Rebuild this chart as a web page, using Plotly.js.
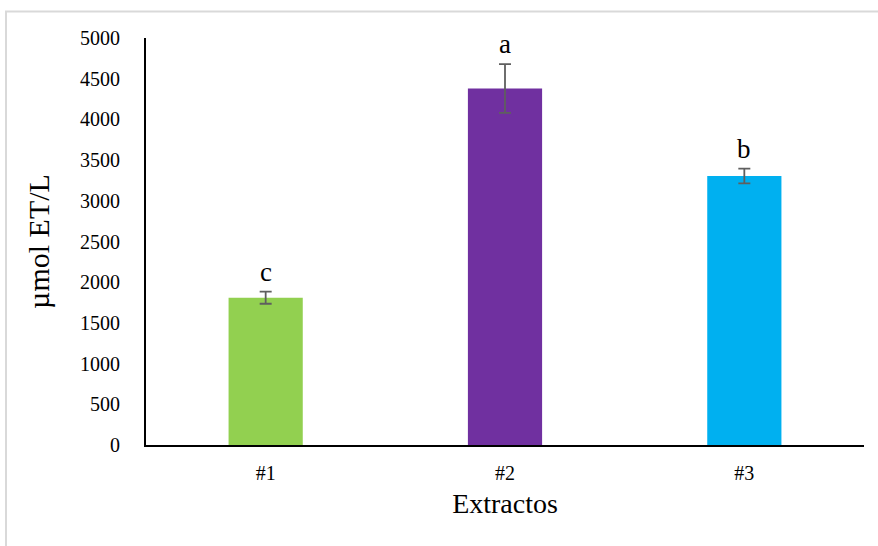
<!DOCTYPE html>
<html>
<head>
<meta charset="utf-8">
<script src="https://cdn.plot.ly/plotly-3.0.1.min.js"></script>
<style>html,body{margin:0;padding:0;background:#fff;}#chart{width:878px;height:546px;}</style>
</head>
<body>
<div id="chart"></div>
<script>
const categories = ["#1", "#2", "#3"];
const values = [1810, 4380, 3305];
const errors = [75, 300, 90];
const letters = ["c", "a", "b"];
const letterY = [2125, 4926, 3636];
const colors = ["#92d050", "#7030a0", "#00b0f0"];

const serif = "'Liberation Serif', 'Times New Roman', serif";

const trace = {
  type: "bar",
  x: categories,
  y: values,
  width: 0.31,
  marker: {color: colors},
  error_y: {type: "data", array: errors, visible: true, color: "#5f5f5f", thickness: 1.8, width: 6},
  hoverinfo: "x+y"
};

const annotations = categories.map((c, i) => ({
  x: c, y: letterY[i], xref: "x", yref: "y", text: letters[i], showarrow: false,
  font: {family: serif, size: 27, color: "#000"}, yanchor: "middle"
}));

const layout = {
  width: 878, height: 546,
  margin: {l: 146, r: 14, t: 38, b: 101},
  font: {family: serif, size: 20, color: "#000"},
  paper_bgcolor: "#fff", plot_bgcolor: "#fff",
  showlegend: false,
  bargap: 0.69,
  xaxis: {
    type: "category",
    showline: true, linecolor: "#000", linewidth: 2,
    ticks: "", showgrid: false, zeroline: false,
    ticklabelstandoff: 9,
    tickfont: {family: serif, size: 20, color: "#000"},
    title: {text: "Extractos", font: {family: serif, size: 28, color: "#000"}, standoff: 10}
  },
  yaxis: {
    range: [0, 5000], dtick: 500,
    showline: true, linecolor: "#000", linewidth: 2,
    ticks: "", showgrid: false, zeroline: false,
    ticklabelstandoff: 20,
    tickfont: {family: serif, size: 20, color: "#000"},
    title: {text: "µmol ET/L", font: {family: serif, size: 30, color: "#000"}, standoff: 22}
  },
  annotations: annotations,
  shapes: [{
    type: "rect", xref: "paper", yref: "paper",
    x0: -0.195, x1: 1.2, y0: -0.3, y1: 1.065,
    line: {color: "#d9d9d9", width: 2}, fillcolor: "rgba(0,0,0,0)", layer: "below"
  }]
};

Plotly.newPlot("chart", [trace], layout, {displayModeBar: false, staticPlot: true});
</script>
</body>
</html>
